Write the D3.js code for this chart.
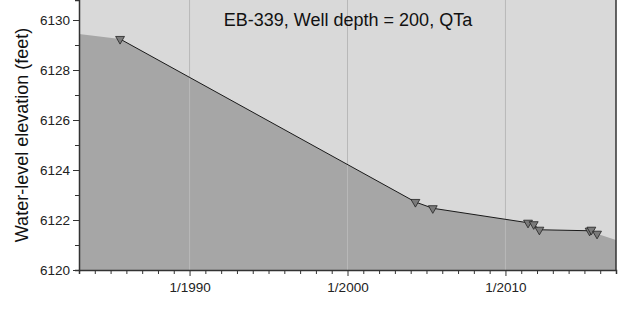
<!DOCTYPE html>
<html>
<head>
<meta charset="utf-8">
<script src="https://cdn.jsdelivr.net/npm/d3@7"></script>
<style>
  body { margin: 0; background: #fff; }
  svg { display: block; font-family: "Liberation Sans", Arial, sans-serif; }
</style>
</head>
<body>
<svg id="chart"></svg>
<script>
// measured water levels (decimal year, feet)
const years = [1985.6, 2004.3, 2005.4, 2011.43, 2011.79, 2012.15, 2015.33, 2015.44, 2015.8];
const levels = [6129.24, 6122.72, 6122.47, 6121.89, 6121.83, 6121.61, 6121.57, 6121.61, 6121.45];
// shaded area extends past first/last measurement to chart edges
const areaStart = [1983, 6129.44];
const areaEnd = [2017, 6121.2];
const xTickYears = [1990, 2000, 2010];
const yTicks = [6120, 6122, 6124, 6126, 6128, 6130];
const title = 'EB-339, Well depth = 200, QTa';

const W = 624, H = 311;
const m = { left: 79, right: 8, top: 0, bottom: 41 };

const svg = d3.select('#chart').attr('width', W).attr('height', H);

const x = d3.scaleLinear().domain([1983, 2017]).range([m.left, W - m.right]);
const y = d3.scaleLinear().domain([6120, 6130.8]).range([H - m.bottom, m.top]);

// plot background
svg.append('rect')
    .attr('x', x(1983)).attr('y', y(6130.8))
    .attr('width', x(2017) - x(1983))
    .attr('height', y(6120) - y(6130.8))
    .attr('fill', '#d9d9d9');

// shaded area below the water level
const areaPts = [areaStart].concat(years.map((v, i) => [v, levels[i]]), [areaEnd]);
svg.append('path')
    .datum(areaPts)
    .attr('fill', '#a6a6a6')
    .attr('d', d3.area().x(d => x(d[0])).y0(y(6120)).y1(d => y(d[1])));

// vertical gridlines
svg.selectAll('.grid')
    .data(xTickYears)
    .join('line')
    .attr('x1', d => x(d)).attr('x2', d => x(d))
    .attr('y1', y(6120)).attr('y2', y(6130.8))
    .attr('stroke', '#b8b8b8').attr('stroke-width', 1);

// line connecting measurements
svg.append('path')
    .datum(years.map((v, i) => [v, levels[i]]))
    .attr('fill', 'none')
    .attr('stroke', '#1a1a1a')
    .attr('stroke-width', 1)
    .attr('d', d3.line().x(d => x(d[0])).y(d => y(d[1])));

// markers (downward triangles)
const tri = d3.symbol().type(d3.symbolTriangle).size(34);
svg.selectAll('.pt')
    .data(years)
    .join('path')
    .attr('d', tri)
    .attr('transform', (d, i) => `translate(${x(d)},${y(levels[i])}) rotate(180)`)
    .attr('fill', '#7a7a7a')
    .attr('stroke', '#222')
    .attr('stroke-width', 0.8);

// axes
const yearTicks = d3.range(1984, 2018);
const xAxis = d3.axisBottom(x)
    .tickValues(yearTicks)
    .tickSize(4)
    .tickFormat(d => xTickYears.includes(d) ? '1/' + d : '');
const gx = svg.append('g')
    .attr('transform', `translate(0,${y(6120)})`)
    .call(xAxis);
gx.selectAll('.tick line').attr('y2', d => xTickYears.includes(d) ? 6 : 4);
gx.selectAll('text').attr('font-size', 13.5).attr('fill', '#222').attr('dy', '1.1em');

const yAxis = d3.axisLeft(y)
    .tickValues(d3.range(6120, 6131))
    .tickSize(4)
    .tickFormat(d => yTicks.includes(d) ? d : '');
const gy = svg.append('g')
    .attr('transform', `translate(${m.left},0)`)
    .call(yAxis);
gy.selectAll('.tick line').attr('x2', d => yTicks.includes(d) ? -6 : -4);
gy.selectAll('text').attr('font-size', 13.5).attr('fill', '#222').attr('x', -9);

svg.selectAll('.domain').attr('stroke', '#333').attr('stroke-width', 1.5);
svg.selectAll('.tick line').attr('stroke', '#333');

// right border
svg.append('line')
    .attr('x1', x(2017)).attr('x2', x(2017))
    .attr('y1', y(6120)).attr('y2', y(6130.8))
    .attr('stroke', '#333').attr('stroke-width', 1.5);

// title
svg.append('text')
    .attr('x', 348).attr('y', 26)
    .attr('text-anchor', 'middle')
    .attr('font-size', 18)
    .attr('fill', '#111')
    .text(title);

// y axis label
svg.append('text')
    .attr('transform', `translate(22,${(y(6120) + y(6130.8)) / 2}) rotate(-90)`)
    .attr('text-anchor', 'middle')
    .attr('dy', '0.35em')
    .attr('font-size', 18)
    .attr('fill', '#111')
    .text('Water-level elevation (feet)');
</script>
</body>
</html>
